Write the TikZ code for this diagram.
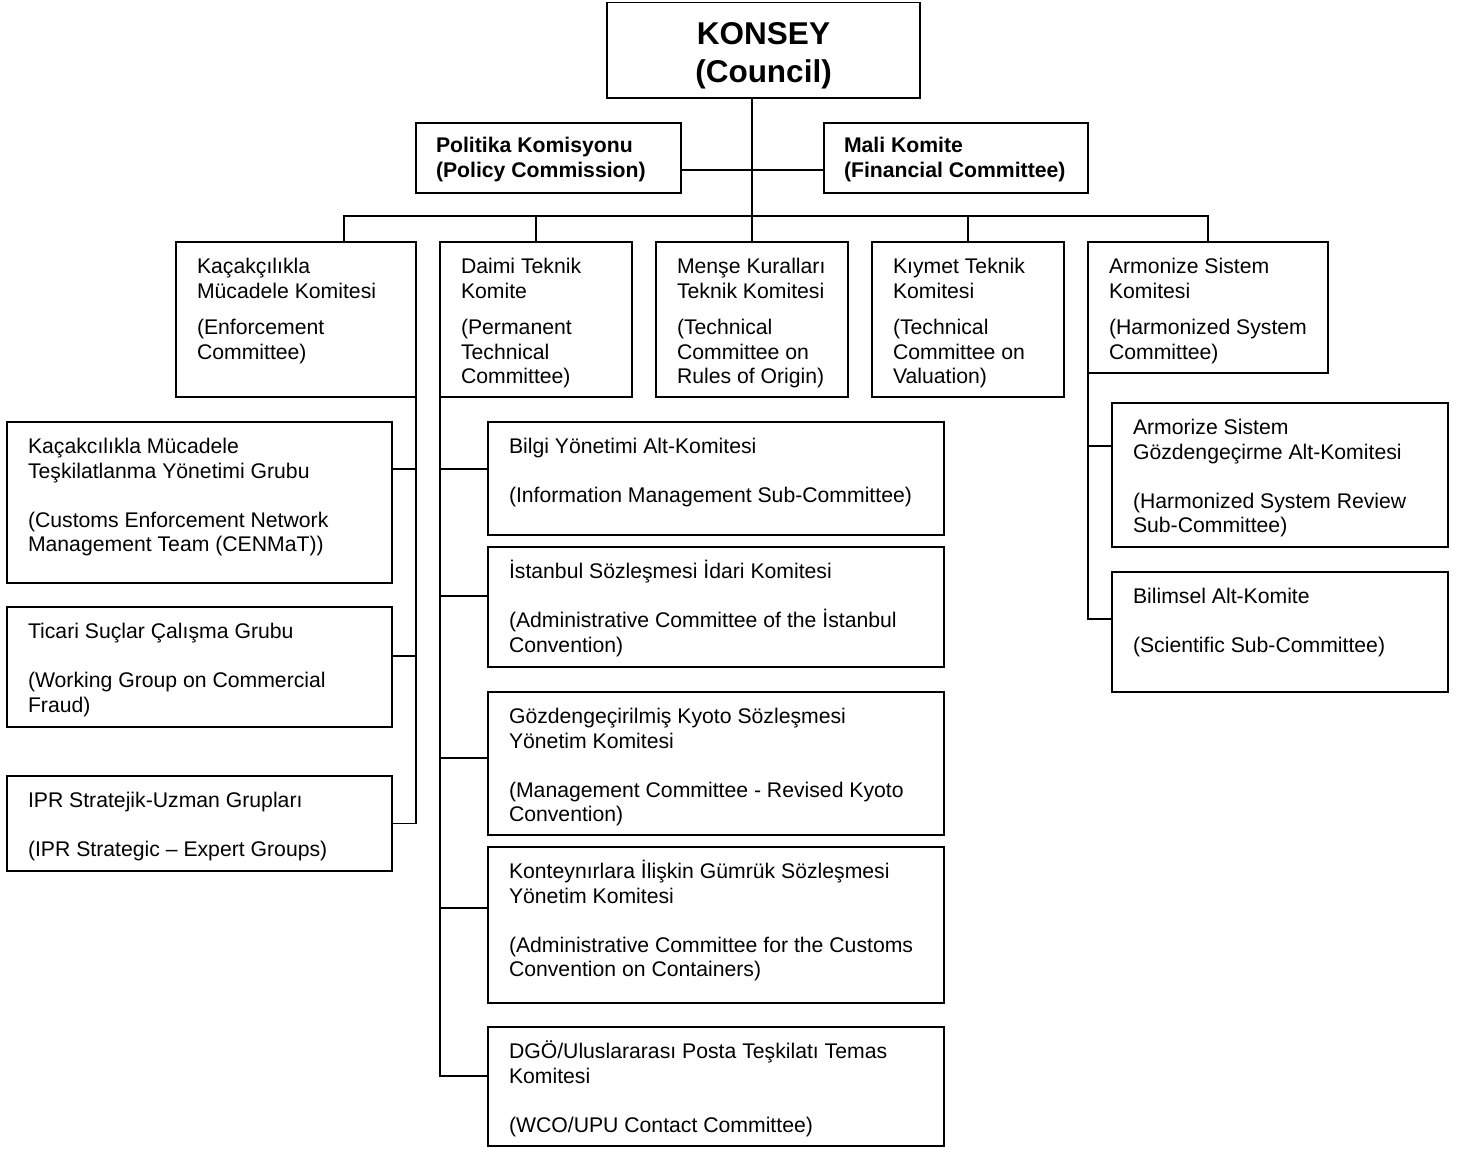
\documentclass[tikz,border=0pt]{standalone}
\usepackage{fontspec}
\setmainfont{Liberation Sans}
\newcommand{\boxfont}{\fontsize{21.2pt}{24.5pt}\selectfont}
\tikzset{
  box/.style={draw, line width=1.8pt, inner sep=0pt, outer sep=0pt, anchor=north west},
  link/.style={line width=1.8pt, line cap=rect}
}
% name, x, y, width, height, text
\newcommand{\orgbox}[6]{%
  \node[box] (#1) at (#2pt,-#3pt) {\parbox[c][#5pt][t]{#4pt}{\boxfont\leftskip=21pt\rightskip=0pt plus 1fil\parindent=0pt\hyphenpenalty=10000\rule{0pt}{31.5pt}#6\par}};}
\newcommand{\boldbox}[6]{%
  \node[box] (#1) at (#2pt,-#3pt) {\parbox[c][#5pt][t]{#4pt}{\boxfont\bfseries\leftskip=20pt\rightskip=0pt plus 1fil\parindent=0pt\rule{0pt}{29.5pt}#6\par}};}
\begin{document}
\begin{tikzpicture}
\useasboundingbox (0,0) rectangle (1471pt,-1148pt);

% top
\node[box] (council) at (607pt,-2.5pt) {\parbox[c][95.5pt][t]{313pt}{\centering\fontsize{31.5pt}{38pt}\selectfont\bfseries\rule{0pt}{41.8pt}KONSEY\\(Council)\par}};
\boldbox{pol}{416}{123}{265}{70}{Politika Komisyonu\\(Policy Commission)}
\boldbox{mali}{824}{123}{264}{70}{Mali Komite\\(Financial Committee)}

% committees
\orgbox{kac}{176}{242}{240}{155}{Kaçakçılıkla\\Mücadele Komitesi\\[12pt](Enforcement\\Committee)}
\orgbox{dai}{440}{242}{192}{155}{Daimi Teknik\\Komite\\[12pt](Permanent\\Technical\\Committee)}
\orgbox{men}{656}{242}{192}{155}{Menşe Kuralları\\Teknik Komitesi\\[12pt](Technical\\Committee on\\Rules of Origin)}
\orgbox{kiy}{872}{242}{192}{155}{Kıymet Teknik\\Komitesi\\[12pt](Technical\\Committee on\\Valuation)}
\orgbox{arm}{1088}{242}{240}{131}{Armonize Sistem\\Komitesi\\[12pt](Harmonized System\\Committee)}

% enforcement sub-groups
\orgbox{cen}{7}{422}{385}{161}{Kaçakcılıkla Mücadele\\Teşkilatlanma Yönetimi Grubu\\[24.5pt](Customs Enforcement Network\\Management Team (CENMaT))}
\orgbox{tic}{7}{607}{385}{120}{Ticari Suçlar Çalışma Grubu\\[24.5pt](Working Group on Commercial\\Fraud)}
\orgbox{ipr}{7}{776}{385}{95}{IPR Stratejik-Uzman Grupları\\[24.5pt](IPR Strategic – Expert Groups)}

% permanent technical sub-committees
\orgbox{bil}{488}{422}{456}{113}{Bilgi Yönetimi Alt-Komitesi\\[24.5pt](Information Management Sub-Committee)}
\orgbox{ist}{488}{547}{456}{120}{İstanbul Sözleşmesi İdari Komitesi\\[24.5pt](Administrative Committee of the İstanbul\\Convention)}
\orgbox{goz}{488}{692}{456}{143}{Gözdengeçirilmiş Kyoto Sözleşmesi\\Yönetim Komitesi\\[24.5pt](Management Committee - Revised Kyoto\\Convention)}
\orgbox{kon}{488}{847}{456}{156}{Konteynırlara İlişkin Gümrük Sözleşmesi\\Yönetim Komitesi\\[24.5pt](Administrative Committee for the Customs\\Convention on Containers)}
\orgbox{dgo}{488}{1027}{456}{119}{DGÖ/Uluslararası Posta Teşkilatı Temas\\Komitesi\\[24.5pt](WCO/UPU Contact Committee)}

% HS sub-committees
\orgbox{ars}{1112}{403}{336}{144}{Armorize Sistem\\Gözdengeçirme Alt-Komitesi\\[24.5pt](Harmonized System Review\\Sub-Committee)}
\orgbox{bim}{1112}{572}{336}{120}{Bilimsel Alt-Komite\\[24.5pt](Scientific Sub-Committee)}

% connectors
\coordinate (ct) at ([xshift=-11.5pt]council.south);
\coordinate (busL) at (344pt,-216pt);
\coordinate (busR) at (arm.north |- busL);
\draw[link] (ct) -- (ct |- men.north);
\draw[link] ([yshift=-12pt]pol.east) -- ([yshift=-12pt]mali.west);
\draw[link] (busL) -- (busR);
\draw[link] (busL) -- (busL |- kac.north);
\draw[link] (dai.north |- busL) -- (dai.north);
\draw[link] (kiy.north |- busL) -- (kiy.north);
\draw[link] (busR) -- (arm.north);

% enforcement tree
\draw[link] (kac.south east) |- (ipr.east);
\draw[link] ([yshift=33.5pt]cen.east) -- ([yshift=33.5pt]cen.east -| kac.east);
\draw[link] ([yshift=11pt]tic.east) -- ([yshift=11pt]tic.east -| kac.east);

% permanent technical tree
\draw[link] (dai.south west) |- ([yshift=10.5pt]dgo.west);
\draw[link] ([yshift=9.5pt]bil.west) -- ([yshift=9.5pt]bil.west -| dai.west);
\draw[link] ([yshift=11pt]ist.west) -- ([yshift=11pt]ist.west -| dai.west);
\draw[link] ([yshift=5.5pt]goz.west) -- ([yshift=5.5pt]goz.west -| dai.west);
\draw[link] ([yshift=17pt]kon.west) -- ([yshift=17pt]kon.west -| dai.west);

% HS tree
\draw[link] (arm.south west) |- ([yshift=13pt]bim.west);
\draw[link] ([yshift=29pt]ars.west) -- ([yshift=29pt]ars.west -| arm.west);
\end{tikzpicture}
\end{document}
